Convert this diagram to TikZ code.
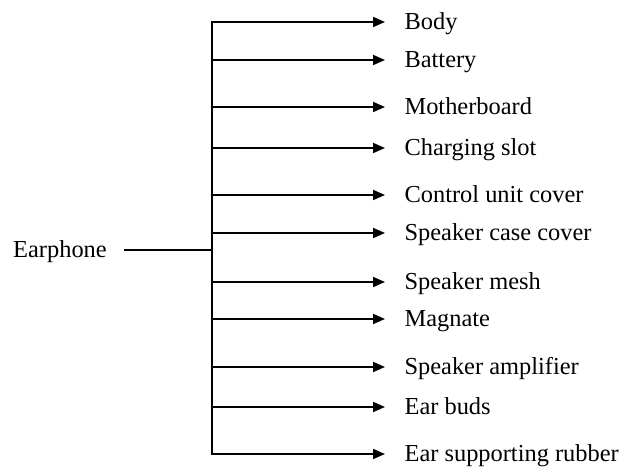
\documentclass[tikz,border=0pt]{standalone}
\usepackage{fontspec}
\setmainfont{Liberation Serif}
\usetikzlibrary{arrows.meta}
\begin{document}
\begin{tikzpicture}[x=0.75pt,y=-0.75pt,
  lbl/.style={anchor=west,inner xsep=14.5pt,inner ysep=0pt,text height=12pt,text depth=0pt,font=\fontsize{18.3}{22}\selectfont},
  conn/.style={line width=1.3pt,line cap=rect},
  arr/.style={line width=1.3pt,-{Triangle[length=9pt,width=7.5pt]}}]
\useasboundingbox (0,0) rectangle (633,470);
\foreach \y/\t [count=\i] in {22/Body, 60/Battery, 107/Motherboard, 148/Charging slot, 195/Control unit cover, 233/Speaker case cover, 282/Speaker mesh, 319/Magnate, 367/Speaker amplifier, 407/Ear buds, 454/Ear supporting rubber} {
  \coordinate (b\i) at (212,\y);
  \node[lbl] (n\i) at (385,\y) {\t};
  \draw[arr] (b\i) -- (n\i.west);
}
\draw[conn] (b1) -- (b11);
\node[lbl,anchor=east,inner xsep=12.75pt] (ear) at (124,250) {Earphone};
\coordinate (j) at (212,250);
\draw[conn,line cap=butt] (ear.east) -- (j);
\end{tikzpicture}
\end{document}
